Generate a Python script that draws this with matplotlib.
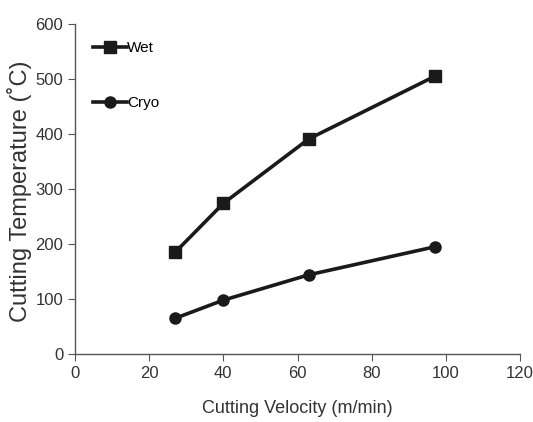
import matplotlib
matplotlib.use("Agg")
import matplotlib.pyplot as plt

# cutting velocity (m/min) and temperature (deg C)
velocity = [27, 40, 63, 97]
wet_temp = [185, 274, 391, 505]
cryo_temp = [65, 98, 144, 195]

x_ticks = [0, 20, 40, 60, 80, 100, 120]
y_ticks = [0, 100, 200, 300, 400, 500, 600]

font = "Liberation Sans"

fig = plt.figure(figsize=(5.33, 4.22), dpi=100)
ax = fig.add_axes([0.1407, 0.161, 0.835, 0.782])

ax.plot(velocity, wet_temp, color="#1a1a1a", lw=2.6, marker="s", ms=8,
        label="Wet")
ax.plot(velocity, cryo_temp, color="#1a1a1a", lw=2.6, marker="o", ms=8,
        label="Cryo")

ax.set_xlim(0, 120)
ax.set_ylim(0, 600)
ax.set_xticks(x_ticks)
ax.set_yticks(y_ticks)
for s in ("top", "right"):
    ax.spines[s].set_visible(False)
for s in ("left", "bottom"):
    ax.spines[s].set_color("#555555")
    ax.spines[s].set_linewidth(1.0)
ax.tick_params(direction="out", length=5, color="#555555", labelcolor="#333333")
for lab in ax.get_xticklabels() + ax.get_yticklabels():
    lab.set_fontfamily(font)
    lab.set_fontsize(12)

ax.set_xlabel("Cutting Velocity (m/min)", fontfamily=font, fontsize=13,
              color="#333333", labelpad=14)
ax.set_ylabel("Cutting Temperature (˚C)", fontfamily=font,
              fontsize=17, color="#333333", va="center")
ax.yaxis.set_label_coords(-0.124, 0.494)

leg = ax.legend(loc="upper left", bbox_to_anchor=(0.01, 0.99), frameon=False,
                handlelength=2.2, handletextpad=0.0, labelspacing=2.7,
                prop={"family": font, "size": 11})

fig.savefig("out.png", dpi=100)
